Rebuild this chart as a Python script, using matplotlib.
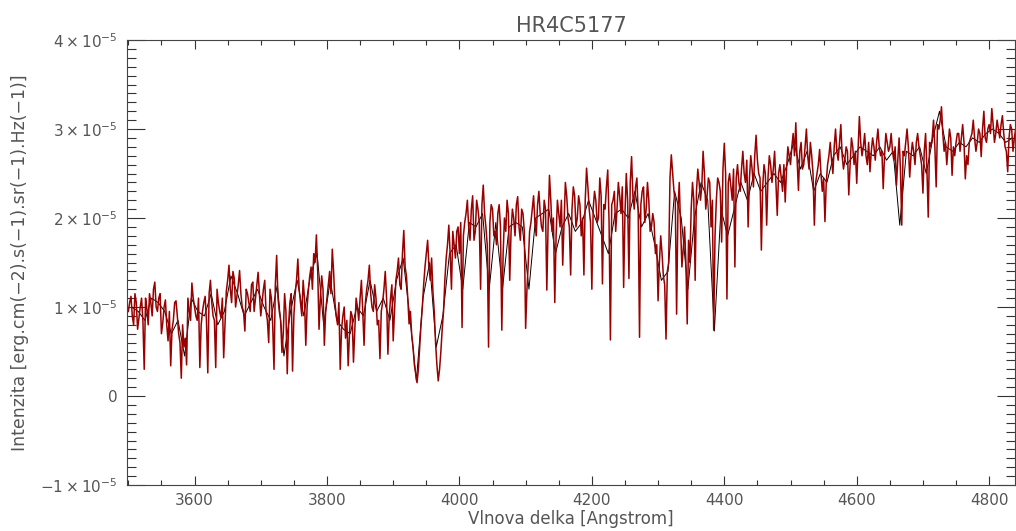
import numpy as np
import matplotlib
matplotlib.use("Agg")
from matplotlib import pyplot as plt
from matplotlib.ticker import MultipleLocator, FuncFormatter

# spectrum, flux in units of 1e-5
# red series, part a: 4 A steps starting at 3500 A
red_a_start = 3500
red_step = 4
flux_red_a = [
    0.95, 1.12, 0.80, 1.05, 0.88, 1.10, 0.30, 0.98, 1.15, 0.90, 1.28, 0.95, 1.15, 0.82, 1.08, 0.62, 0.34, 0.85, 1.07, 0.70, 0.20, 0.55, 0.35, 0.95, 1.27,
    1.00, 0.85, 0.32, 0.95, 1.12, 0.26, 1.30, 0.90, 0.32, 1.05, 0.88, 0.43, 1.18, 1.47, 1.05, 1.32, 1.12, 1.41, 1.00, 0.73, 1.15, 0.95, 1.28, 1.10, 1.39,
    0.90, 1.20, 0.95, 0.60, 1.10, 0.30, 1.58, 0.95, 0.49, 1.15, 0.25, 1.05, 0.28, 1.15, 1.54, 1.05, 1.30, 0.57, 1.20, 1.45, 1.60, 1.81, 0.75, 1.35, 0.57,
    1.10, 1.40, 1.65, 1.05, 0.80, 0.30, 0.90, 0.65, 0.34, 0.95, 0.38, 1.10, 0.85, 1.30, 0.57, 1.20, 1.47, 1.00, 1.25, 0.80, 0.42, 1.05, 1.40, 0.47, 1.10,
    0.62, 1.30, 1.55, 1.20, 1.86, 1.35, 0.81, 0.68, 0.35, 0.15, 0.55, 1.00, 1.45, 1.75, 1.30, 1.17, 0.60, 0.17, 0.50, 0.95, 1.55, 1.92, 1.20, 1.70, 1.85,
    1.60, 0.77, 1.95, 2.20, 1.75, 2.25, 1.85, 2.10, 1.20, 2.37, 1.90, 0.55, 2.15, 1.80, 1.70, 2.15, 0.74, 2.00, 2.20, 1.30, 2.10, 1.80, 2.24, 1.75, 2.05,
    0.76, 1.50, 1.95, 2.25, 1.80, 2.30, 1.90, 2.20, 1.19, 2.48, 1.85, 1.05, 2.20, 1.90, 1.47, 2.40, 2.00, 1.36, 2.35, 1.90, 2.25, 1.80, 1.36, 2.56, 2.10,
    1.20, 2.30, 1.95, 2.45, 1.26, 2.10, 2.54, 0.63, 2.20, 1.85, 2.40, 2.05, 1.22, 2.50, 1.32, 2.69, 2.10, 2.45, 0.66, 2.30, 1.95, 2.40, 1.85, 2.05, 1.60,
    1.07, 1.80, 1.35, 0.64, 1.50, 2.71, 2.30, 0.92, 2.40, 1.45, 1.90, 0.81, 1.50, 2.40, 1.30, 2.55, 2.20, 2.75, 2.10, 2.45, 1.90, 0.74, 2.20, 2.40, 1.73,
    2.84, 1.09, 2.50, 2.20, 1.45, 2.60, 2.30, 2.75, 2.40, 1.90, 2.70, 2.35, 2.93, 2.50, 1.64, 2.60, 1.92, 2.70, 2.40, 2.75, 2.03, 2.60, 2.30, 2.18, 2.80,
    2.60, 2.95, 3.07, 2.31, 2.85, 2.60, 3.00, 2.55, 2.70, 1.92, 2.50, 2.77, 2.30, 1.96, 2.60, 2.85, 2.50, 3.00, 2.65, 3.05, 2.55, 2.80, 2.26, 2.90, 2.60,
    2.39, 3.14, 2.70, 2.95, 2.60, 2.52, 2.90, 2.65, 3.00, 2.70, 2.33, 2.95, 2.75, 2.95, 2.65, 2.37, 2.90, 1.92, 2.70, 3.00, 2.46, 2.85, 2.60, 2.95, 2.70,
    2.28, 2.95, 2.01, 2.80, 3.10, 2.35, 3.00, 3.25, 2.75, 2.60, 3.00, 2.48, 2.70, 2.95, 2.75, 3.05, 2.44, 2.60, 2.90, 3.10, 2.75, 3.00, 2.69, 3.20, 2.85,
    3.05, 3.23, 2.85, 3.10, 2.90, 3.15, 2.80, 2.52, 3.05, 2.75, 3.00,
]

# red series, part b: 4 A steps starting at 3502 A (in between part a)
red_b_start = 3502
flux_red_b = [
    1.05, 0.90, 1.15, 0.75, 1.00, 0.85, 1.10, 0.80, 1.05, 1.20, 1.00, 1.10, 0.70, 1.00, 0.80, 0.95, 0.75, 1.05, 0.90, 0.60, 0.80, 0.65, 1.10, 0.85, 1.10,
    0.90, 1.10, 0.80, 1.05, 0.85, 1.15, 1.05, 0.85, 1.20, 0.95, 1.10, 0.80, 1.30, 1.20, 1.40, 1.00, 1.25, 1.15, 0.95, 1.20, 1.05, 1.25, 0.95, 1.25, 1.15,
    1.05, 1.30, 0.85, 1.20, 0.80, 1.25, 1.10, 0.85, 0.70, 0.95, 0.80, 1.15, 0.90, 1.30, 1.20, 0.90, 1.10, 1.00, 1.35, 1.20, 1.50, 1.40, 1.10, 1.20, 0.95,
    1.25, 1.15, 1.40, 0.90, 1.05, 0.75, 1.00, 0.85, 0.70, 0.90, 0.75, 1.00, 1.10, 0.95, 1.05, 1.30, 1.15, 0.95, 1.10, 0.85, 0.95, 1.20, 1.10, 0.90, 1.25,
    0.95, 1.40, 1.25, 1.60, 1.45, 1.10, 0.95, 0.55, 0.25, 0.30, 0.80, 1.25, 1.60, 1.45, 1.55, 0.95, 0.35, 0.30, 0.75, 1.30, 1.70, 1.60, 1.85, 1.55, 1.90,
    1.95, 1.80, 2.05, 1.90, 2.10, 1.75, 2.20, 1.95, 2.15, 2.05, 1.70, 1.95, 2.10, 1.85, 2.05, 1.90, 1.60, 1.85, 2.05, 1.85, 2.00, 2.15, 1.90, 2.10, 1.85,
    1.20, 1.85, 2.10, 1.95, 2.15, 2.05, 1.85, 2.10, 1.95, 2.20, 2.00, 1.80, 2.05, 2.20, 1.95, 2.25, 1.90, 2.10, 2.25, 2.00, 2.15, 2.00, 2.20, 2.35, 1.95,
    2.10, 2.20, 2.00, 2.25, 2.15, 2.35, 1.95, 2.15, 2.30, 2.10, 2.25, 2.35, 2.05, 2.20, 2.40, 2.25, 2.35, 2.05, 2.15, 2.35, 2.10, 2.20, 1.90, 1.95, 1.70,
    1.50, 1.60, 1.25, 1.40, 2.45, 2.50, 2.20, 2.10, 1.90, 1.65, 1.50, 1.75, 2.10, 2.20, 2.30, 2.40, 2.35, 2.50, 2.25, 2.40, 2.20, 1.80, 2.45, 2.30, 2.55,
    2.50, 2.40, 2.35, 2.55, 2.45, 2.40, 2.55, 2.50, 2.65, 2.45, 2.55, 2.70, 2.65, 2.45, 2.35, 2.50, 2.45, 2.60, 2.55, 2.40, 2.50, 2.45, 2.60, 2.55, 2.70,
    2.80, 2.70, 2.65, 2.75, 2.55, 2.80, 2.70, 2.85, 2.50, 2.40, 2.60, 2.50, 2.45, 2.40, 2.70, 2.65, 2.80, 2.75, 2.85, 2.70, 2.65, 2.75, 2.60, 2.80, 2.75,
    2.75, 2.85, 2.80, 2.70, 2.85, 2.75, 2.80, 2.85, 2.80, 2.75, 2.70, 2.85, 2.80, 2.75, 2.80, 2.65, 2.55, 2.75, 2.85, 2.80, 2.70, 2.75, 2.85, 2.80, 2.60,
    2.75, 2.55, 2.85, 2.90, 2.80, 3.05, 3.10, 2.95, 2.85, 2.80, 2.90, 2.80, 2.85, 2.95, 2.90, 2.85, 2.70, 2.85, 2.95, 2.90, 2.85, 2.95, 3.00, 2.90, 3.00,
    2.95, 3.05, 2.95, 3.00, 3.05, 2.95, 2.75, 2.90, 3.00, 2.90,
]

# black series: 10 A steps starting at 3505 A
black_start = 3505
black_step = 10
flux_black = [
    1.00, 0.95, 0.85, 1.10, 1.05, 0.95, 0.70, 0.85, 0.45, 1.10,
    0.95, 0.90, 1.15, 0.80, 0.95, 1.35, 1.15, 0.90, 1.05, 1.20,
    1.00, 0.85, 1.25, 0.45, 0.95, 1.30, 0.90, 1.35, 1.60, 0.80,
    1.30, 0.85, 0.75, 0.70, 1.00, 0.90, 1.30, 0.95, 1.10, 0.85,
    1.30, 1.55, 0.90, 0.17, 1.10, 1.50, 0.55, 0.90, 1.60, 1.70,
    1.20, 1.95, 1.90, 2.05, 1.20, 1.95, 1.20, 1.90, 1.95, 1.90,
    1.20, 2.00, 2.05, 2.10, 1.60, 1.90, 2.05, 1.85, 1.95, 2.20,
    2.00, 1.80, 1.60, 2.05, 2.10, 2.00, 2.30, 1.90, 2.05, 1.70,
    1.30, 1.40, 2.30, 2.00, 1.20, 2.00, 2.40, 2.20, 0.73, 2.10,
    1.80, 2.10, 2.40, 2.20, 2.50, 2.30, 2.40, 2.50, 2.40, 2.60,
    2.85, 2.55, 2.75, 2.30, 2.50, 2.40, 2.70, 2.80, 2.60, 2.70,
    2.80, 2.75, 2.70, 2.80, 2.65, 2.75, 1.92, 2.75, 2.70, 2.80,
    2.50, 2.90, 3.20, 2.80, 2.75, 2.85, 2.80, 2.90, 2.85, 2.95,
    3.00, 2.95, 2.85, 2.90,
]

unit = 1e-5
text_col = "#555555"


def sci_label(v, pos):
    m = int(round(v / unit))
    if m == 0:
        return "0"
    return r"$%d\times10^{-5}$" % m


def main():
    wave_a = red_a_start + red_step * np.arange(len(flux_red_a))
    wave_b = red_b_start + red_step * np.arange(len(flux_red_b))
    wave_red = np.concatenate([wave_a, wave_b])
    flux_red = np.concatenate([flux_red_a, flux_red_b])
    order = np.argsort(wave_red)
    wave_red, flux_red = wave_red[order], flux_red[order]

    wave_black = black_start + black_step * np.arange(len(flux_black))

    fig = plt.figure(figsize=(10.16, 5.31), dpi=100)
    ax = fig.add_axes([0.125, 0.0866, 0.874, 0.838])

    ax.plot(wave_black, np.array(flux_black) * unit, color="black", lw=0.7)
    ax.plot(wave_red, flux_red * unit, color="#9a0000", lw=1.1)

    ax.set_xlim(3498, 4839)
    ax.set_ylim(-1e-5, 4e-5)

    ax.xaxis.set_major_locator(MultipleLocator(200))
    ax.xaxis.set_minor_locator(MultipleLocator(50))
    ax.yaxis.set_major_locator(MultipleLocator(1e-5))
    ax.yaxis.set_minor_locator(MultipleLocator(1e-6))
    ax.yaxis.set_major_formatter(FuncFormatter(sci_label))

    ax.tick_params(which="both", direction="in", top=True, right=True,
                   colors="#333333", labelcolor=text_col, labelsize=11, width=0.8)
    ax.tick_params(axis="x", which="major", length=6.5, pad=6)
    ax.tick_params(axis="x", which="minor", length=3.3)
    ax.tick_params(axis="y", which="major", length=13, pad=7)
    ax.tick_params(axis="y", which="minor", length=6.5)

    for s in ax.spines.values():
        s.set_color("#444444")
        s.set_linewidth(0.8)

    ax.set_title("HR4C5177", color=text_col, fontsize=15, pad=6)
    ax.set_xlabel("Vlnova delka [Angstrom]", color=text_col, fontsize=12, labelpad=1)
    ax.set_ylabel("Intenzita [erg.cm(\u22122).s(\u22121).sr(\u22121).Hz(\u22121)]",
                  color=text_col, fontsize=12.5, labelpad=8)

    fig.savefig("out.png", dpi=100)


if __name__ == "__main__":
    main()
